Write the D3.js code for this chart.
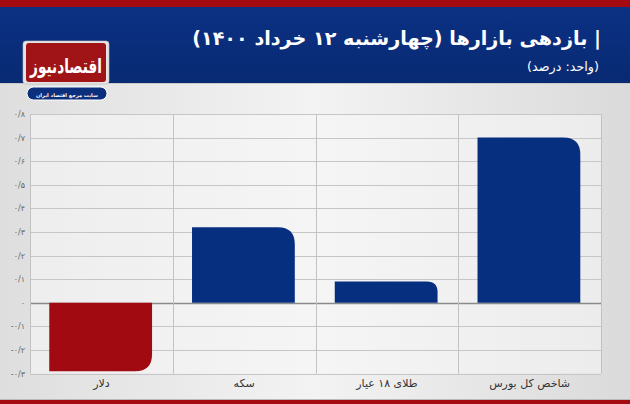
<!DOCTYPE html>
<html><head><meta charset="utf-8">
<script src="https://cdn.jsdelivr.net/npm/d3@7"></script>
<style>html,body{margin:0;padding:0;background:#e9e9e9;}svg{display:block;}</style>
</head><body>
<script>
const categories = ["دلار", "سکه", "طلای ۱۸ عیار", "شاخص کل بورس"];
const values = [-0.29, 0.32, 0.09, 0.70];
const tickValues = [-0.3, -0.2, -0.1, 0, 0.1, 0.2, 0.3, 0.4, 0.5, 0.6, 0.7, 0.8];
const tickLabels = ["-۰/۳", "-۰/۲", "-۰/۱", "۰", "۰/۱", "۰/۲", "۰/۳", "۰/۴", "۰/۵", "۰/۶", "۰/۷", "۰/۸"];
const titleText = "| بازدهی بازارها (چهارشنبه ۱۲ خرداد ۱۴۰۰)";
const subtitleText = "(واحد: درصد)";

const W = 630, H = 404;
const FONT = "'DejaVu Sans', sans-serif";
const svg = d3.select("body").append("svg").attr("width", W).attr("height", H);
const defs = svg.append("defs");
const bgGrad = defs.append("linearGradient").attr("id", "bg").attr("x1", 0).attr("x2", 1).attr("y1", 0).attr("y2", 0);
bgGrad.append("stop").attr("offset", "0%").attr("stop-color", "#dedede");
bgGrad.append("stop").attr("offset", "50%").attr("stop-color", "#f3f3f3");
bgGrad.append("stop").attr("offset", "100%").attr("stop-color", "#dadada");
const hdGrad = defs.append("linearGradient").attr("id", "hd").attr("x1", 0).attr("x2", 0).attr("y1", 0).attr("y2", 1);
hdGrad.append("stop").attr("offset", "0%").attr("stop-color", "#0c3184");
hdGrad.append("stop").attr("offset", "100%").attr("stop-color", "#082a73");

svg.append("rect").attr("width", W).attr("height", H).attr("fill", "url(#bg)");
// header
svg.append("rect").attr("x", 0).attr("y", 0).attr("width", W).attr("height", 7).attr("fill", "#a30b11");
svg.append("rect").attr("x", 0).attr("y", 7).attr("width", W).attr("height", 76).attr("fill", "url(#hd)");
svg.append("rect").attr("x", 0).attr("y", 83).attr("width", W).attr("height", 1).attr("fill", "#c9c9c9");
// bottom stripe
svg.append("rect").attr("x", 0).attr("y", 399).attr("width", W).attr("height", 1).attr("fill", "#b9b9b9");
svg.append("rect").attr("x", 0).attr("y", 400).attr("width", W).attr("height", 4).attr("fill", "#a30b11");

function fit(sel, width) {
  const node = sel.node();
  let fs = parseFloat(sel.attr("font-size"));
  const len = node.getComputedTextLength();
  if (len > 0) sel.attr("font-size", (fs * width / len).toFixed(2));
}

const title = svg.append("text").attr("x", 601).attr("y", 45).attr("text-anchor", "start")
  .attr("direction", "rtl")
  .attr("font-family", FONT).attr("font-weight", "bold").attr("font-size", 22)
  .attr("fill", "#ffffff").text(titleText);
fit(title, 409);

const sub = svg.append("text").attr("x", 599).attr("y", 71).attr("text-anchor", "start")
  .attr("direction", "rtl")
  .attr("font-family", FONT).attr("font-size", 12)
  .attr("fill", "#ffffff").text(subtitleText);
fit(sub, 72);

// logo
const logo = svg.append("g");
logo.append("rect").attr("x", 23).attr("y", 41).attr("width", 86).attr("height", 43).attr("rx", 3)
  .attr("fill", "#e4e4e4").attr("stroke", "#bdbdbd").attr("stroke-width", 0.6);
logo.append("rect").attr("x", 26).attr("y", 43).attr("width", 80).attr("height", 39).attr("rx", 3)
  .attr("fill", "#a01417");
const ltg = logo.append("g").attr("transform", "translate(66,73) scale(1,1.45)");
const lt = ltg.append("text").attr("x", 0).attr("y", 0).attr("text-anchor", "middle")
  .attr("font-family", FONT).attr("font-weight", "bold").attr("font-size", 20)
  .attr("fill", "#ffffff").text("اقتصادنیوز");
fit(lt, 72);
logo.append("rect").attr("x", 27).attr("y", 87).attr("width", 80).attr("height", 13).attr("rx", 6.5)
  .attr("fill", "#0b2f7c").attr("stroke", "#ffffff").attr("stroke-width", 1);
const lt2 = logo.append("text").attr("x", 67).attr("y", 96.5).attr("text-anchor", "middle")
  .attr("font-family", FONT).attr("font-weight", "bold").attr("font-size", 7)
  .attr("fill", "#ffffff").text("سایت مرجع اقتصاد ایران");
fit(lt2, 62);

// chart
const x0 = 30, x1 = 601;
const y = d3.scaleLinear().domain([-0.3, 0.8]).range([373.6, 114]);
const x = d3.scaleBand().domain(categories).range([x0, x1]).padding(0);

const plot = svg.append("g");
plot.append("rect").attr("x", x0).attr("y", y(0.8)).attr("width", x1 - x0).attr("height", y(-0.3) - y(0.8))
  .attr("fill", "#f6f6f6").attr("opacity", 0.6);

// horizontal grid
plot.selectAll("line.h").data(tickValues).join("line").attr("class", "h")
  .attr("x1", x0).attr("x2", x1)
  .attr("y1", d => Math.round(y(d)) + 0.5).attr("y2", d => Math.round(y(d)) + 0.5)
  .attr("stroke", d => d === 0 ? "#8a8a8a" : "#c6c6c6").attr("stroke-width", d => d === 0 ? 1.3 : 1);

// vertical grid
const vx = categories.map(c => x(c)).concat([x1]);
plot.selectAll("line.v").data(vx).join("line").attr("class", "v")
  .attr("x1", d => Math.round(d) + 0.5).attr("x2", d => Math.round(d) + 0.5)
  .attr("y1", y(0.8)).attr("y2", y(-0.3))
  .attr("stroke", "#c2c2c2").attr("stroke-width", 1);

// y tick labels
svg.selectAll("text.yt").data(tickValues).join("text").attr("class", "yt")
  .attr("x", 25).attr("y", d => y(d) + 3)
  .attr("text-anchor", "end").attr("direction", "ltr")
  .attr("font-family", FONT).attr("font-size", 8).attr("fill", "#666")
  .text((d, i) => tickLabels[i]);

// bars
const bw = x.bandwidth();
function barPath(v, cat) {
  const bx = x(cat) + bw * 0.135, w = bw * 0.72;
  const yz = y(0), yv = y(v);
  const h = Math.abs(yz - yv);
  const r = Math.min(17, h / 2, w / 2);
  if (v >= 0) {
    return `M${bx},${yz} L${bx},${yv} L${bx + w - r},${yv} Q${bx + w},${yv} ${bx + w},${yv + r} L${bx + w},${yz} Z`;
  } else {
    return `M${bx},${yz} L${bx + w},${yz} L${bx + w},${yv - r} Q${bx + w},${yv} ${bx + w - r},${yv} L${bx},${yv} Z`;
  }
}
svg.selectAll("path.bar").data(values).join("path").attr("class", "bar")
  .attr("d", (v, i) => barPath(v, categories[i]))
  .attr("fill", v => v < 0 ? "#a00a10" : "#062f80");

// category labels
svg.selectAll("text.cat").data(categories).join("text").attr("class", "cat")
  .attr("x", d => x(d) + bw / 2).attr("y", 387)
  .attr("text-anchor", "middle")
  .attr("font-family", FONT).attr("font-size", 11).attr("fill", "#333")
  .text(d => d);
</script>
</body></html>
